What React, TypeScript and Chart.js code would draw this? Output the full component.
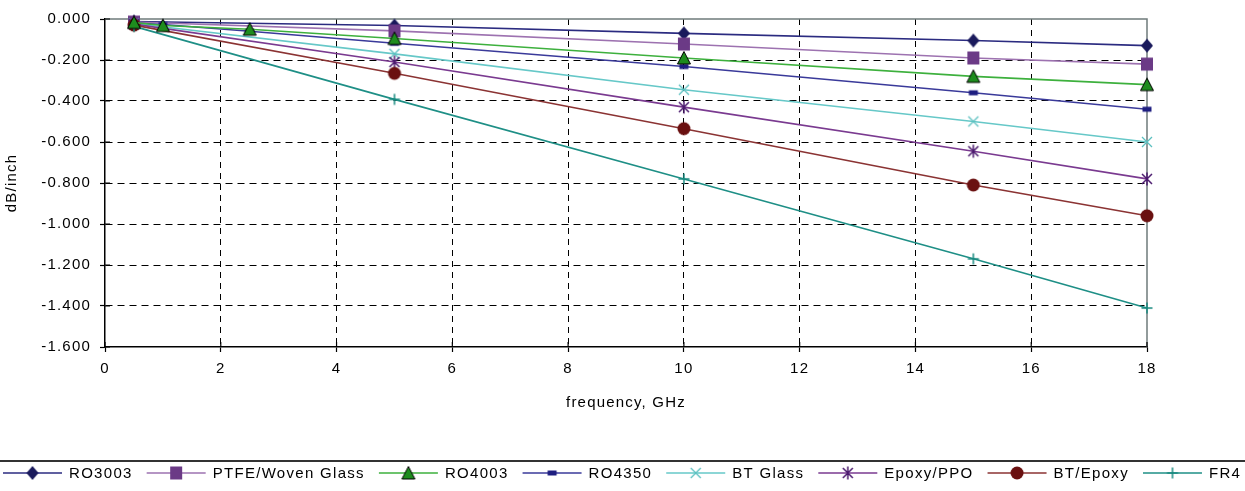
import React, { useEffect, useRef } from 'react';
import { Chart, registerables } from 'chart.js';

Chart.register(...registerables);

// ---- data ----
const FREQ = [0.5, 1, 2.5, 5, 10, 15, 18];
const RO3003 = [-0.012, null, null, -0.032, -0.07, -0.105, -0.13];
const PTFE_WOVEN = [-0.015, null, null, -0.058, -0.122, -0.19, -0.22];
const RO4003 = [-0.017, -0.032, -0.05, -0.095, -0.19, -0.28, -0.32];
const RO4350 = [-0.02, -0.027, -0.06, -0.118, -0.232, -0.36, -0.44];
const BT_GLASS = [-0.022, null, null, -0.17, -0.345, -0.5, -0.6];
const EPOXY_PPO = [-0.025, null, null, -0.21, -0.43, -0.645, -0.78];
const BT_EPOXY = [-0.03, null, null, -0.265, -0.535, -0.81, -0.96];
const FR4 = [-0.036, null, null, -0.392, -0.78, -1.17, -1.41];

const SERIES_NAMES = ['RO3003', 'PTFE/Woven Glass', 'RO4003', 'RO4350', 'BT Glass', 'Epoxy/PPO', 'BT/Epoxy', 'FR4'];
const SERIES_VALUES = [RO3003, PTFE_WOVEN, RO4003, RO4350, BT_GLASS, EPOXY_PPO, BT_EPOXY, FR4];
const LINE_COLORS = ['#2B2B80', '#9D72B0', '#3DB03D', '#3A3A9A', '#66C8C8', '#7A3A90', '#8B3333', '#1E8F86'];
const MARKER_KINDS = ['diamond', 'square', 'triangle', 'dash', 'x', 'star', 'circle', 'plus'];
const MARKER_COLORS = ['#1A1A5C', '#6B3A86', '#1E8C1E', '#1E1E80', '#5BC0C0', '#4B1A6E', '#6A1010', '#1A8A80'];
const DRAW_ORDER = [-1, -2, -10, -3, -4, -5, -6, -7];

const X_MIN = 0, X_MAX = 18, X_STEP = 2;
const Y_MIN = -1.6, Y_MAX = 0, Y_STEP = 0.2;
const X_TITLE = 'frequency, GHz';
const Y_TITLE = 'dB/inch';

const FONT = '"Liberation Sans", Arial, sans-serif';

function makeMarker(kind: string, color: string): HTMLCanvasElement {
  const s = 18;
  const c = document.createElement('canvas');
  c.width = s; c.height = s;
  const g = c.getContext('2d')!;
  const m = s / 2;
  g.fillStyle = color;
  g.strokeStyle = color;
  g.beginPath();
  switch (kind) {
    case 'diamond':
      g.moveTo(m, m - 7); g.lineTo(m + 6, m); g.lineTo(m, m + 7); g.lineTo(m - 6, m); g.closePath(); g.fill();
      break;
    case 'square':
      g.rect(m - 6, m - 6.5, 12, 13); g.fill();
      break;
    case 'triangle':
      g.moveTo(m, m - 6.5); g.lineTo(m + 6.5, m + 6); g.lineTo(m - 6.5, m + 6); g.closePath(); g.fill();
      g.strokeStyle = '#000'; g.lineWidth = 1; g.stroke();
      break;
    case 'dash':
      g.rect(m - 4.5, m - 2.5, 9, 5); g.fill();
      break;
    case 'x':
      g.lineWidth = 1.3;
      g.moveTo(m - 5, m - 5); g.lineTo(m + 5, m + 5);
      g.moveTo(m + 5, m - 5); g.lineTo(m - 5, m + 5);
      g.stroke();
      break;
    case 'star':
      g.lineWidth = 1.5;
      g.moveTo(m - 5, m - 5); g.lineTo(m + 5, m + 5);
      g.moveTo(m + 5, m - 5); g.lineTo(m - 5, m + 5);
      g.moveTo(m, m - 6.5); g.lineTo(m, m + 6.5);
      g.stroke();
      break;
    case 'circle':
      g.arc(m, m, 6.5, 0, Math.PI * 2); g.fill();
      break;
    case 'plus':
      g.lineWidth = 1.5;
      g.moveTo(m - 5.5, m); g.lineTo(m + 5.5, m);
      g.moveTo(m, m - 5.5); g.lineTo(m, m + 5.5);
      g.stroke();
      break;
  }
  return c;
}

export default function App() {
  const ref = useRef<HTMLCanvasElement | null>(null);

  useEffect(() => {
    const canvas = ref.current;
    if (!canvas) return;
    const markers = MARKER_KINDS.map((k, i) => makeMarker(k, MARKER_COLORS[i]));

    const datasets = SERIES_NAMES.map((name, i) => ({
      label: name,
      data: FREQ.map((f, j) => ({ x: f, y: SERIES_VALUES[i][j] })).filter((p) => p.y !== null),
      borderColor: LINE_COLORS[i],
      backgroundColor: LINE_COLORS[i],
      borderWidth: 1.6,
      pointStyle: markers[i] as any,
      pointRadius: 6,
      tension: 0,
      clip: false as any,
      order: DRAW_ORDER[i],
    }));

    const spacingPlugin = {
      id: 'spacing',
      beforeUpdate(chart: any) { chart.ctx.letterSpacing = '1.2px'; },
      beforeLayout(chart: any) { chart.ctx.letterSpacing = '1.2px'; },
      beforeDraw(chart: any) { chart.ctx.letterSpacing = '1.2px'; },
    };

    const framePlugin = {
      id: 'frame',
      beforeDatasetsDraw(chart: any) {
        const { ctx, chartArea: a, scales } = chart;
        ctx.save();
        ctx.strokeStyle = '#6F7B7B';
        ctx.lineWidth = 1.5;
        ctx.beginPath();
        ctx.moveTo(a.left, a.top); ctx.lineTo(a.right, a.top); ctx.lineTo(a.right, a.bottom);
        ctx.stroke();
        // inner halves of tick marks
        ctx.strokeStyle = '#000';
        ctx.lineWidth = 1.2;
        ctx.beginPath();
        scales.x.ticks.forEach((t: any) => {
          const x = scales.x.getPixelForValue(t.value);
          ctx.moveTo(x, a.bottom); ctx.lineTo(x, a.bottom - 5);
        });
        scales.y.ticks.forEach((t: any) => {
          const y = scales.y.getPixelForValue(t.value);
          ctx.moveTo(a.left, y); ctx.lineTo(a.left + 5, y);
        });
        ctx.stroke();
        ctx.restore();
      },
    };

    const legendPlugin = {
      id: 'customLegend',
      afterDraw(chart: any) {
        const { ctx, width } = chart;
        ctx.save();
        ctx.strokeStyle = '#333';
        ctx.lineWidth = 2;
        ctx.beginPath();
        ctx.moveTo(0, 461); ctx.lineTo(width, 461);
        ctx.stroke();
        ctx.font = `15px ${FONT}`;
        ctx.letterSpacing = '1.3px';
        ctx.textBaseline = 'middle';
        ctx.textAlign = 'left';
        const yc = 473;
        let x = 3;
        const lineLen = 59;
        SERIES_NAMES.forEach((name, i) => {
          ctx.strokeStyle = LINE_COLORS[i];
          ctx.lineWidth = 1.6;
          ctx.beginPath();
          ctx.moveTo(x, yc); ctx.lineTo(x + lineLen, yc);
          ctx.stroke();
          const mk = markers[i];
          ctx.drawImage(mk, x + lineLen / 2 - mk.width / 2, yc - mk.height / 2);
          ctx.fillStyle = '#000';
          ctx.fillText(name, x + lineLen + 7, yc + 1);
          const tw = ctx.measureText(name).width;
          x += lineLen + 7 + tw + 14;
        });
        ctx.restore();
      },
    };

    const chart = new Chart(canvas, {
      type: 'line',
      data: { datasets: datasets as any },
      options: {
        responsive: false,
        animation: false,
        layout: { padding: { left: 0, top: 19, right: 98, bottom: 69 } },
        plugins: {
          legend: { display: false },
          tooltip: { enabled: false },
        },
        scales: {
          x: {
            type: 'linear',
            min: X_MIN,
            max: X_MAX,
            afterFit(scale: any) { scale.height = 75; },
            ticks: {
              stepSize: X_STEP,
              color: '#000',
              font: { family: FONT, size: 15 },
              padding: 8,
              maxRotation: 0,
            },
            grid: {
              color: (c: any) => (c.tick && (c.tick.value === X_MIN || c.tick.value === X_MAX)) ? 'rgba(0,0,0,0)' : '#000',
              lineWidth: 1,
              tickLength: 5,
              tickColor: '#000',
              tickWidth: 1.2,
            },
            border: { display: true, color: '#000', width: 1.5, dash: [6, 5] },
            title: {
              display: true,
              text: X_TITLE,
              color: '#000',
              font: { family: FONT, size: 15 },
              padding: { top: 0, bottom: 10 },
            },
          },
          y: {
            type: 'linear',
            min: Y_MIN,
            max: Y_MAX,
            afterFit(scale: any) { scale.width = 105; },
            ticks: {
              stepSize: Y_STEP,
              color: '#000',
              font: { family: FONT, size: 15 },
              padding: 9,
              callback: (v: any) => Number(v).toFixed(3),
            },
            grid: {
              color: (c: any) => (c.tick && (Math.abs(c.tick.value - Y_MAX) < 1e-9 || Math.abs(c.tick.value - Y_MIN) < 1e-9)) ? 'rgba(0,0,0,0)' : '#000',
              lineWidth: 1,
              tickLength: 5,
              tickColor: '#000',
              tickWidth: 1.2,
            },
            border: { display: true, color: '#000', width: 1.5, dash: [7, 5] },
            title: {
              display: true,
              text: Y_TITLE,
              color: '#000',
              font: { family: FONT, size: 15 },
              padding: { top: 3, bottom: 0 },
            },
          },
        },
      } as any,
      plugins: [spacingPlugin, framePlugin, legendPlugin],
    });

    return () => chart.destroy();
  }, []);

  return (
    <div style={{ position: 'fixed', left: 0, top: 0, width: 1245, height: 491, background: '#fff' }}>
      <canvas ref={ref} width={1245} height={491} style={{ display: 'block', width: 1245, height: 491 }} />
    </div>
  );
}
